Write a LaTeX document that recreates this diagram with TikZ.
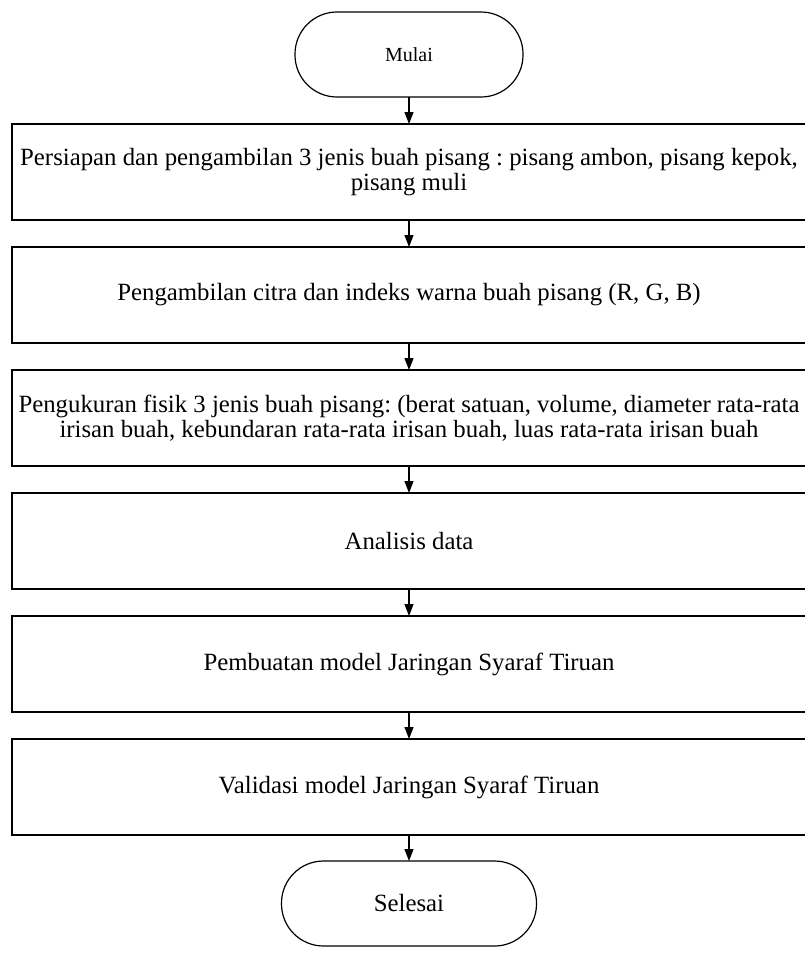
\documentclass[tikz,border=0pt]{standalone}
\usepackage{fontspec}
\setmainfont{Liberation Serif}
\usetikzlibrary{positioning,arrows.meta}
\frenchspacing

\begin{document}
\begin{tikzpicture}[x=1pt,y=-1pt,
    node distance=27pt,
    every node/.style={draw,line width=1.2pt,inner sep=0pt,outer sep=0pt,align=center},
    proses/.style={rectangle,minimum width=794pt,minimum height=96pt,
      font=\fontsize{24.8}{25.5}\selectfont},
    terminal/.style={rectangle,rounded corners=42pt,minimum height=85pt,
      font=\fontsize{24.8}{25.5}\selectfont},
    panah/.style={line width=1.2pt,-{Triangle[length=12pt,width=9pt]}}]
  \useasboundingbox (0,0) rectangle (804,956);

  % Terminal awal, lalu kotak proses ke bawah.
  \node[terminal,minimum width=228pt,font=\fontsize{20}{22}\selectfont] (mulai) at (409,54.5) {Mulai};
  \node[proses] (p1) [below=of mulai] {Persiapan dan pengambilan 3 jenis buah pisang : pisang ambon, pisang kepok,\\ pisang muli};
  \node[proses] (p2) [below=of p1] {Pengambilan citra dan indeks warna buah pisang (R, G, B)};
  \node[proses] (p3) [below=of p2] {Pengukuran fisik 3 jenis buah pisang: (berat satuan, volume, diameter rata-rata\\ irisan buah, kebundaran rata-rata irisan buah, luas rata-rata irisan buah};
  \node[proses] (p4) [below=of p3] {Analisis data};
  \node[proses] (p5) [below=of p4] {Pembuatan model Jaringan Syaraf Tiruan};
  \node[proses] (p6) [below=of p5] {Validasi model Jaringan Syaraf Tiruan};
  \node[terminal,minimum width=255pt] (selesai) [below=26pt of p6] {Selesai};

  % Panah antar langkah.
  \draw[panah] (mulai) -- (p1);
  \draw[panah] (p1) -- (p2);
  \draw[panah] (p2) -- (p3);
  \draw[panah] (p3) -- (p4);
  \draw[panah] (p4) -- (p5);
  \draw[panah] (p5) -- (p6);
  \draw[panah] (p6) -- (selesai);
\end{tikzpicture}
\end{document}
